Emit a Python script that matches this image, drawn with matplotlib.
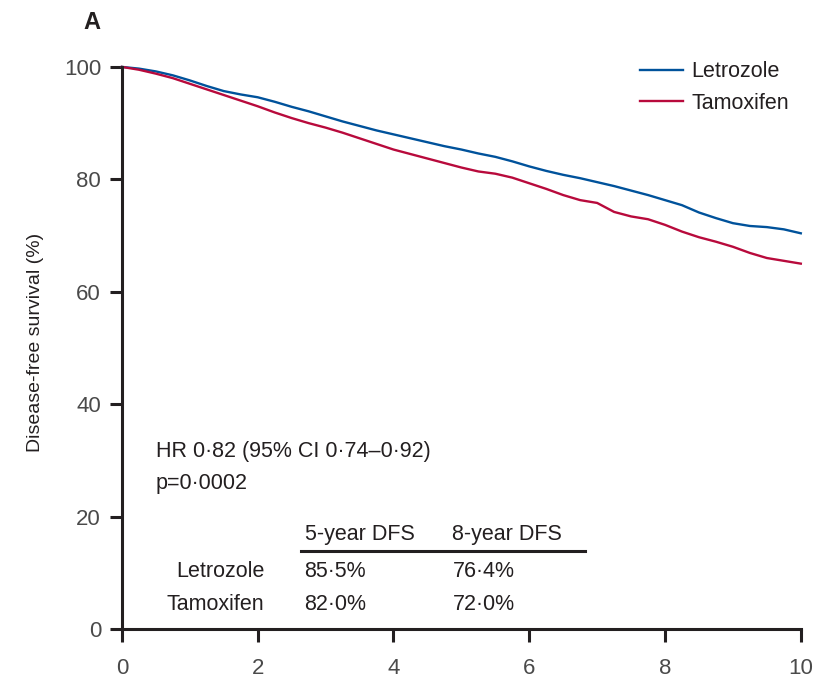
import matplotlib.pyplot as plt

# Kaplan-Meier curves (years, %)
years = [0, 0.25, 0.5, 0.75, 1.0, 1.25, 1.5, 1.75, 2.0, 2.25, 2.5, 2.75, 3.0,
         3.25, 3.5, 3.75, 4.0, 4.25, 4.5, 4.75, 5.0, 5.25, 5.5, 5.75, 6.0,
         6.25, 6.5, 6.75, 7.0, 7.25, 7.5, 7.75, 8.0, 8.25, 8.5, 8.75, 9.0,
         9.25, 9.5, 9.75, 10.0]
letrozole = [100, 99.7, 99.2, 98.5, 97.6, 96.6, 95.7, 95.1, 94.6, 93.8, 92.9,
             92.1, 91.2, 90.3, 89.5, 88.7, 88.0, 87.3, 86.6, 85.9, 85.3, 84.6,
             84.0, 83.2, 82.3, 81.5, 80.8, 80.2, 79.5, 78.8, 78.0, 77.2, 76.3,
             75.4, 74.1, 73.1, 72.2, 71.7, 71.5, 71.1, 70.4]
tamoxifen = [100, 99.5, 98.8, 98.0, 97.0, 96.0, 95.0, 94.0, 93.0, 91.9, 90.9,
             90.0, 89.2, 88.3, 87.3, 86.3, 85.3, 84.5, 83.7, 82.9, 82.1, 81.4,
             81.0, 80.3, 79.3, 78.3, 77.2, 76.3, 75.8, 74.2, 73.4, 72.9, 71.9,
             70.7, 69.7, 68.9, 68.0, 66.9, 66.0, 65.5, 65.0]

groups = ['Letrozole', 'Tamoxifen']
dfs_5yr = ['85·5%', '82·0%']
dfs_8yr = ['76·4%', '72·0%']
colors = ['#00529b', '#b80a3c']
text_col = '#231f20'

plt.rcParams['font.family'] = ['Liberation Sans', 'DejaVu Sans']

fig = plt.figure(figsize=(8.13, 6.78), dpi=100)
ax = fig.add_axes([0.150, 0.0723, 0.835, 0.829])

ax.plot(years, letrozole, color=colors[0], lw=1.7, label=groups[0], clip_on=False)
ax.plot(years, tamoxifen, color=colors[1], lw=1.7, label=groups[1], clip_on=False)

ax.set_xlim(0, 10)
ax.set_ylim(0, 100)
ax.set_xticks([0, 2, 4, 6, 8, 10])
ax.set_yticks([0, 20, 40, 60, 80, 100])
for s in ['top', 'right']:
    ax.spines[s].set_visible(False)
for s in ['left', 'bottom']:
    ax.spines[s].set_linewidth(2.2)
    ax.spines[s].set_color(text_col)
ax.tick_params(direction='out', length=9, width=2.2, color=text_col,
               labelsize=16, labelcolor='#4a4a4a', pad=6)
ax.tick_params(axis='x', pad=12)
ax.set_ylabel('Disease-free survival (%)', fontsize=14, color=text_col, labelpad=18)
ax.yaxis.set_label_coords(-0.115, 0.51)

leg = ax.legend(loc='center left', bbox_to_anchor=(0.763, 0.871),
                bbox_transform=fig.transFigure, frameon=False,
                fontsize=15.5, handlelength=2.0, handletextpad=0.4,
                labelspacing=0.5)
for t in leg.get_texts():
    t.set_color(text_col)

fig.text(0.113, 0.967, 'A', fontsize=17, fontweight='bold', color=text_col,
         ha='center', va='center')

tkw = dict(fontsize=15.5, color=text_col, va='center')
ax.text(0.5, 31.6, 'HR 0·82 (95% CI 0·74–0·92)', **tkw)
ax.text(0.5, 25.8, 'p=0·0002', **tkw)

ax.text(2.70, 16.8, '5-year DFS', **tkw)
ax.text(4.86, 16.8, '8-year DFS', **tkw)
ax.plot([2.64, 6.82], [13.9, 13.9], color=text_col, lw=2.2)

row_y = [10.3, 4.4]
for g, a, b, yy in zip(groups, dfs_5yr, dfs_8yr, row_y):
    ax.text(2.10, yy, g, ha='right', fontsize=15.5, color=text_col, va='center')
    ax.text(2.68, yy, a, **tkw)
    ax.text(4.88, yy, b, **tkw)

fig.savefig('out.png', dpi=100)
